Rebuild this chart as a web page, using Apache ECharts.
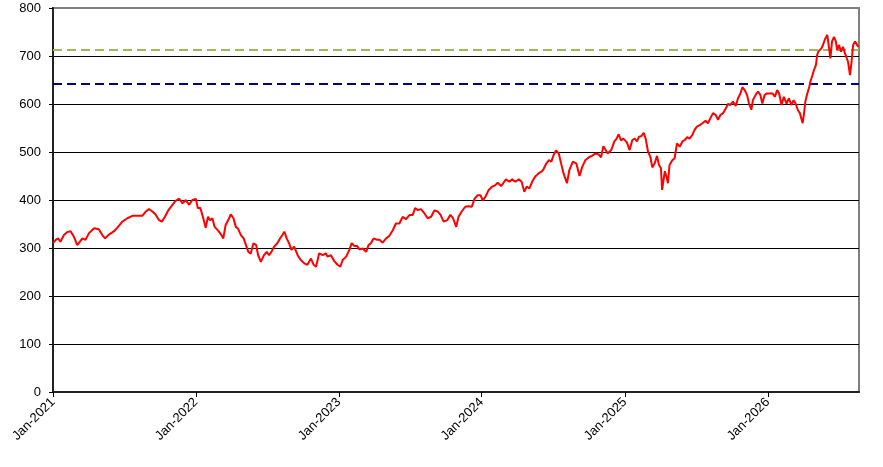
<!DOCTYPE html>
<html>
<head>
<meta charset="utf-8">
<script src="https://cdn.jsdelivr.net/npm/echarts@6/dist/echarts.min.js"></script>
<style>
html,body{margin:0;padding:0;background:#fff;}
#chart{width:883px;height:467px;}
</style>
</head>
<body>
<div id="chart"></div>
<script>
var dates = [
'2021-01-01','2021-01-08','2021-01-14','2021-01-20','2021-01-29','2021-02-06','2021-02-15','2021-02-23','2021-03-04','2021-03-08',
'2021-03-17','2021-03-25','2021-04-03','2021-04-16','2021-04-28','2021-05-07','2021-05-14','2021-05-24','2021-06-06','2021-06-14',
'2021-06-27','2021-07-10','2021-07-23','2021-08-04','2021-08-17','2021-08-26','2021-09-03','2021-09-12','2021-09-20','2021-09-29',
'2021-10-06','2021-10-14','2021-10-23','2021-11-02','2021-11-10','2021-11-19','2021-11-28','2021-12-06','2021-12-15','2021-12-23',
'2022-01-01','2022-01-06','2022-01-12','2022-01-15','2022-01-22','2022-01-26','2022-02-01','2022-02-06','2022-02-12','2022-02-18',
'2022-02-23','2022-03-01','2022-03-07','2022-03-12','2022-03-18','2022-03-27','2022-03-31','2022-04-07','2022-04-13','2022-04-19',
'2022-04-26','2022-05-03','2022-05-09','2022-05-15','2022-05-21','2022-05-28','2022-06-04','2022-06-09','2022-06-16','2022-06-24',
'2022-07-01','2022-07-07','2022-07-13','2022-07-20','2022-07-28','2022-08-04','2022-08-10','2022-08-15','2022-08-21','2022-08-27',
'2022-09-02','2022-09-09','2022-09-18','2022-09-26','2022-10-05','2022-10-13','2022-10-22','2022-10-29','2022-11-04','2022-11-12',
'2022-11-21','2022-11-29','2022-12-03','2022-12-12','2022-12-21','2022-12-29',
'2023-01-05','2023-01-11','2023-01-20','2023-01-28','2023-02-03','2023-02-10','2023-02-17','2023-02-23','2023-03-03','2023-03-12',
'2023-03-18','2023-03-24','2023-03-31','2023-04-09','2023-04-15','2023-04-23','2023-05-02','2023-05-10','2023-05-19','2023-05-27',
'2023-06-05','2023-06-13','2023-06-22','2023-07-01','2023-07-09','2023-07-15','2023-07-22','2023-07-30','2023-08-08','2023-08-16',
'2023-08-25','2023-09-02','2023-09-11','2023-09-18','2023-09-26','2023-10-05','2023-10-13','2023-10-20','2023-10-28','2023-11-03',
'2023-11-11','2023-11-20','2023-11-28','2023-12-07','2023-12-14','2023-12-22','2023-12-29',
'2024-01-04','2024-01-11','2024-01-19','2024-01-28','2024-02-05','2024-02-11','2024-02-20','2024-02-26','2024-03-03','2024-03-12',
'2024-03-19','2024-03-27','2024-04-05','2024-04-12','2024-04-19','2024-04-25','2024-05-02','2024-05-09','2024-05-17','2024-05-26',
'2024-06-02','2024-06-07','2024-06-14','2024-06-21','2024-06-27','2024-07-03','2024-07-09','2024-07-16','2024-07-22','2024-07-28',
'2024-08-06','2024-08-12','2024-08-21','2024-08-30','2024-09-07','2024-09-14','2024-09-22','2024-10-01','2024-10-09','2024-10-18',
'2024-10-26','2024-11-01','2024-11-07','2024-11-12','2024-11-18','2024-11-27','2024-12-05','2024-12-11','2024-12-16','2024-12-22',
'2024-12-28',
'2025-01-06','2025-01-13','2025-01-20','2025-01-26','2025-02-01','2025-02-06','2025-02-12','2025-02-18','2025-02-23','2025-03-01',
'2025-03-07','2025-03-12','2025-03-18','2025-03-24','2025-03-29','2025-04-03','2025-04-06','2025-04-10','2025-04-13','2025-04-17',
'2025-04-21','2025-04-25','2025-05-02','2025-05-08','2025-05-14','2025-05-21','2025-05-28','2025-06-03','2025-06-09','2025-06-15',
'2025-06-22','2025-06-28','2025-07-04','2025-07-11','2025-07-18','2025-07-26','2025-08-01','2025-08-07','2025-08-14','2025-08-21',
'2025-08-27','2025-09-02','2025-09-09','2025-09-16','2025-09-21','2025-09-27','2025-10-04','2025-10-11','2025-10-17','2025-10-23',
'2025-10-28','2025-11-03','2025-11-09','2025-11-14','2025-11-20','2025-11-24','2025-12-01','2025-12-07','2025-12-13','2025-12-18',
'2025-12-24','2025-12-30',
'2026-01-06','2026-01-13','2026-01-19','2026-01-25','2026-01-30','2026-02-05','2026-02-11','2026-02-18','2026-02-24','2026-03-02',
'2026-03-08','2026-03-13','2026-03-19','2026-03-24','2026-03-28','2026-03-31','2026-04-03','2026-04-07','2026-04-11','2026-04-17',
'2026-04-20','2026-04-25','2026-04-29','2026-05-04','2026-05-07','2026-05-10','2026-05-14','2026-05-18','2026-05-22','2026-05-27',
'2026-06-02','2026-06-05','2026-06-10','2026-06-14','2026-06-19','2026-06-24','2026-06-27','2026-07-02','2026-07-07','2026-07-12',
'2026-07-17','2026-07-21','2026-07-25','2026-07-30','2026-08-03','2026-08-07','2026-08-12','2026-08-16','2026-08-20'
];
var prices = [
310,317,320,313,327,333,335,324,306,303,
320,317,331,341,339,327,320,328,335,342,
355,362,367,367,367,376,381,376,370,358,
355,365,379,390,398,403,393,400,390,400,
402,383,384,376,355,342,365,358,362,344,
347,334,327,320,348,362,370,362,344,340,
327,320,306,292,288,310,306,285,271,285,
292,285,292,303,310,320,327,334,320,310,
296,303,285,275,268,265,278,265,261,289,
285,289,282,285,272,265,
261,275,282,296,310,304,304,297,299,292,
306,310,320,317,317,311,320,325,337,351,
351,365,360,369,369,383,379,381,372,362,
365,378,376,369,355,358,369,362,344,365,
376,386,387,386,403,410,410,
399,407,421,428,431,436,429,436,443,438,
443,438,443,438,417,428,424,438,449,456,
459,464,476,483,480,494,503,497,476,456,
435,462,480,476,450,469,483,489,492,497,
495,489,512,511,497,504,522,528,537,524,
528,
520,504,525,528,522,532,533,540,528,501,
490,468,476,492,473,466,421,417,460,449,
435,473,483,487,518,511,522,525,531,528,
535,546,553,556,560,565,560,570,581,577,
567,577,581,591,600,598,605,596,612,622,
635,629,619,601,588,608,619,626,619,601,
619,622,
622,622,615,629,622,598,615,601,612,598,
608,601,587,581,584,560,577,605,619,636,
647,660,671,681,702,709,712,716,723,735,
744,740,695,730,740,730,712,723,709,719,
706,709,688,660,688,723,730,731,719
];
var refLines = [712.5, 642.3];
var refColors = ['#9BBB59', '#000080'];
var yRange = [0, 800, 100];
var xRange = ['2021-01-01', '2026-08-22'];

var seriesData = dates.map(function (d, i) { return [d, prices[i]]; });
var DAY = 24 * 3600 * 1000;
var gridColors = ['#000', '#000', '#000', '#000', '#000', '#000', '#000', '#000', '#808080'];

var chart = echarts.init(document.getElementById('chart'), null, {renderer: 'canvas'});
chart.setOption({
  animation: false,
  backgroundColor: '#ffffff',
  grid: {
    left: 53, top: 8, right: 24, bottom: 75,
    containLabel: false, outerBoundsMode: 'none',
    show: true, borderColor: '#808080', borderWidth: 2, backgroundColor: 'transparent'
  },
  xAxis: {
    type: 'time',
    min: xRange[0], max: xRange[1],
    minInterval: 365 * DAY, maxInterval: 366 * DAY,
    axisLine: {show: true, onZero: false, lineStyle: {color: '#222', width: 2}},
    axisTick: {show: true, length: 5, lineStyle: {color: '#000', width: 1}},
    splitLine: {show: false},
    axisLabel: {
      rotate: 45, margin: 8, color: '#000', fontSize: 13, fontFamily: 'Liberation Sans',
      showMaxLabel: false,
      formatter: function (v) { var d = new Date(v); return 'Jan-' + d.getFullYear(); }
    }
  },
  yAxis: {
    type: 'value',
    min: yRange[0], max: yRange[1], interval: yRange[2],
    axisLine: {show: true, lineStyle: {color: '#222', width: 2}},
    axisTick: {show: true, length: 4, lineStyle: {color: '#000', width: 1}},
    splitLine: {show: true, lineStyle: {color: gridColors, width: 1}},
    axisLabel: {margin: 12, color: '#000', fontSize: 13, fontFamily: 'Liberation Sans'}
  },
  series: [{
    type: 'line',
    data: seriesData,
    showSymbol: false,
    lineStyle: {color: '#FF0000', width: 2},
    z: 5,
    markLine: {
      silent: true,
      symbol: 'none',
      label: {show: false},
      data: refLines.map(function (v, i) {
        return {yAxis: v, lineStyle: {color: refColors[i], width: 2, type: [9, 5]}};
      })
    }
  }]
});
</script>
</body>
</html>
